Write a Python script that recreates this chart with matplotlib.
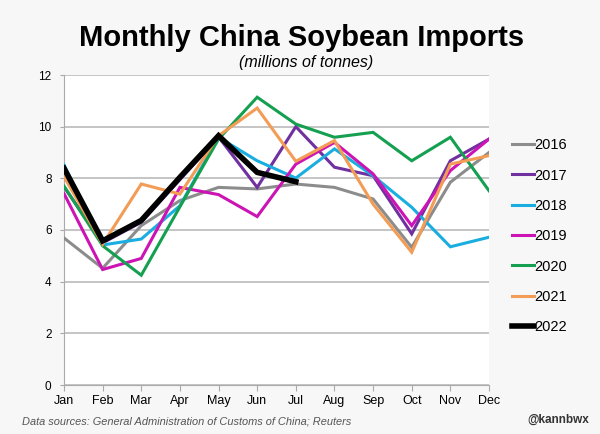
import matplotlib.pyplot as plt

plt.rcParams['font.family'] = ['Liberation Sans', 'DejaVu Sans']

# monthly imports, million tonnes
months = ['Jan', 'Feb', 'Mar', 'Apr', 'May', 'Jun',
          'Jul', 'Aug', 'Sep', 'Oct', 'Nov', 'Dec']
y2016 = [5.69, 4.52, 6.17, 7.14, 7.65, 7.59, 7.78, 7.65, 7.2, 5.33, 7.85, 9.0]
y2017 = [7.67, 5.5, 6.3, 7.95, 9.6, 7.65, 10.0, 8.43, 8.1, 5.85, 8.68, 9.52]
y2018 = [8.52, 5.42, 5.65, 6.94, 9.59, 8.68, 8.01, 9.14, 8.1, 6.88, 5.35, 5.72]
y2019 = [7.41, 4.47, 4.9, 7.65, 7.37, 6.52, 8.55, 9.39, 8.17, 6.17, 8.3, 9.52]
y2020 = [7.7, 5.39, 4.25, 6.9, 9.52, 11.14, 10.1, 9.59, 9.78, 8.68, 9.59, 7.52]
y2021 = [8.07, 5.45, 7.78, 7.39, 9.65, 10.72, 8.66, 9.46, 7.0, 5.14, 8.55, 8.88]
y2022 = [8.39, 5.58, 6.37, 8.04, 9.65, 8.23, 7.87]

series = [
    ('2016', y2016, '#8c8c8c', 2.2),
    ('2017', y2017, '#7030a0', 2.2),
    ('2018', y2018, '#1aaee0', 2.2),
    ('2019', y2019, '#cc14b4', 2.2),
    ('2020', y2020, '#14a050', 2.2),
    ('2021', y2021, '#f39c55', 2.2),
    ('2022', y2022, '#000000', 4.0),
]

fig = plt.figure(figsize=(6, 4.34), dpi=100, facecolor='#f7f7f7')
ax = fig.add_axes([64 / 600, 1 - 385 / 434, 425 / 600, 310 / 434])
ax.set_facecolor('white')

for name, vals, col, lw in series:
    ax.plot(range(len(vals)), vals, color=col, lw=lw, label=name,
            solid_joinstyle='miter', zorder=3)

ax.set_xlim(0, 11)
ax.set_ylim(0, 12)
ax.set_xticks(range(12))
ax.set_xticklabels(months, fontsize=9)
ax.set_yticks(range(0, 13, 2))
ax.tick_params(axis='y', labelsize=8.5, length=3, color='#aaaaaa', pad=6)
ax.tick_params(axis='x', length=4, color='#aaaaaa', pad=3)
ax.grid(axis='y', color='#bbbbbb', lw=1.2, zorder=1)
for s in ['top', 'right']:
    ax.spines[s].set_visible(False)
for s in ['left', 'bottom']:
    ax.spines[s].set_color('#aaaaaa')

leg = ax.legend(loc='upper left', bbox_to_anchor=(1.04, 0.815), frameon=False,
                fontsize=10.5, handlelength=1.55, handletextpad=0.0,
                labelspacing=1.12, borderaxespad=0)

fig.text(0.503, 1 - 38 / 434, 'Monthly China Soybean Imports',
         ha='center', va='center', fontsize=21, fontweight='bold')
fig.text(0.51, 1 - 63 / 434, '(millions of tonnes)', ha='center',
         va='center', fontsize=11.5, style='italic')
fig.text(22 / 600, 1 - 422 / 434,
         'Data sources: General Administration of Customs of China; Reuters',
         ha='left', va='center', fontsize=7.9, style='italic', color='#555555')
fig.text(589 / 600, 1 - 420 / 434, '@kannbwx', ha='right', va='center',
         fontsize=8.5, fontweight='bold', color='#333333')

fig.savefig('out.png', dpi=100, facecolor=fig.get_facecolor())
